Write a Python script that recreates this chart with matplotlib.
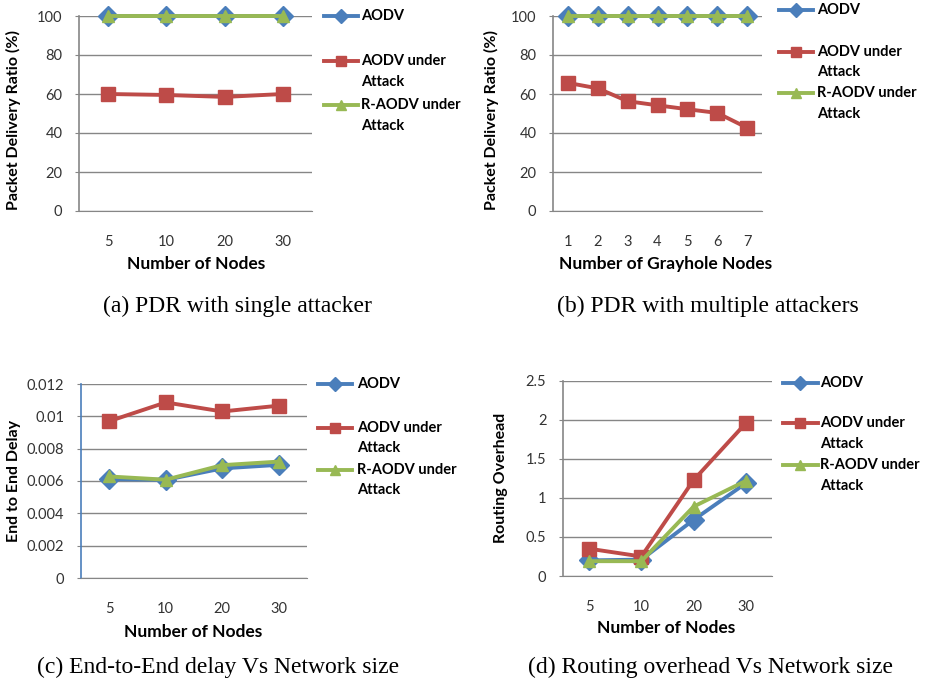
import numpy as np
import matplotlib.pyplot as plt
from matplotlib.lines import Line2D

# data
nodes = ["5", "10", "20", "30"]
grayhole = ["1", "2", "3", "4", "5", "6", "7"]
series_names = ["AODV", "AODV under\nAttack", "R-AODV under\nAttack"]

pdr_single_aodv = [100, 100, 100, 100]
pdr_single_attack = [60, 59.5, 58.5, 60]
pdr_single_raodv = [100, 100, 100, 100]

pdr_multi_aodv = [100, 100, 100, 100, 100, 100, 100]
pdr_multi_attack = [65.7, 62.9, 56.3, 54.2, 52.2, 50.3, 42.7]
pdr_multi_raodv = [100, 100, 100, 100, 100, 100, 100]

delay_aodv = [0.00612, 0.00607, 0.00678, 0.0070]
delay_attack = [0.0097, 0.01086, 0.0103, 0.01066]
delay_raodv = [0.00628, 0.00608, 0.00698, 0.0072]

overhead_aodv = [0.2, 0.21, 0.72, 1.19]
overhead_attack = [0.35, 0.25, 1.23, 1.96]
overhead_raodv = [0.19, 0.19, 0.89, 1.22]

BLUE = "#4A7EBB"
RED = "#BE4B48"
GREEN = "#98B954"
GRID = "#868686"
markers = ["D", "s", "^"]
msizes = [10, 10, 9]
colors = [BLUE, RED, GREEN]

W, H = 928, 684
fig = plt.figure(figsize=(W / 100, H / 100), dpi=100)
plt.rcParams["font.family"] = ["Lato", "DejaVu Sans"]


def px_axes(l, t, r, b):
    return fig.add_axes([l / W, 1 - b / H, (r - l) / W, (b - t) / H])


def ftext(x, y, s, **kw):
    fig.text(x / W, 1 - y / H, s, **kw)


def panel(box, cats, series, ymax, ystep, yfmt, xlabel, ylabel, xl, yl,
          caption, cap, leg, yaxis_color=GRID):
    ax = px_axes(*box)
    x = np.arange(len(cats))
    for vals, c, m, ms in zip(series, colors, markers, msizes):
        ax.plot(x, vals, color=c, lw=2.8, marker=m, ms=ms, mec=c, mfc=c,
                clip_on=False, zorder=3)
    ax.set_xlim(-0.5, len(cats) - 0.5)
    ax.set_ylim(0, ymax)
    ticks = np.arange(0, ymax + ystep / 2, ystep)
    ax.set_yticks(ticks)
    ax.set_yticklabels([yfmt(t) for t in ticks])
    ax.set_xticks(x)
    ax.set_xticklabels(cats)
    for s in ["top", "right"]:
        ax.spines[s].set_visible(False)
    ax.spines["bottom"].set_color(GRID)
    ax.spines["left"].set_color(yaxis_color)
    ax.spines["left"].set_linewidth(1.2)
    ax.grid(axis="y", color=GRID, lw=1)
    ax.set_axisbelow(True)
    ax.tick_params(axis="y", length=3, color=GRID, pad=9, labelsize=10.5,
                   labelcolor="#333333")
    ax.tick_params(axis="x", length=0, pad=17, labelsize=10.5,
                   labelcolor="#333333")
    ftext(xl[0], xl[1], xlabel, ha="center", va="center", fontsize=12.5,
          fontweight="bold")
    ftext(yl[0], yl[1], ylabel, ha="center", va="center", fontsize=11.5,
          fontweight="bold", rotation=90)
    ftext(cap[0], cap[1], caption, ha="center", va="center", fontsize=17,
          family="Liberation Serif")
    # legend, Excel style: marker on the first text line
    lx0, lx1, tx, ys = leg
    for name, c, m, y in zip(series_names, colors, markers, ys):
        fig.add_artist(Line2D([lx0 / W, lx1 / W], [1 - y / H, 1 - y / H],
                              color=c, lw=2.8))
        fig.add_artist(Line2D([(lx0 + lx1) / 2 / W], [1 - y / H], color=c,
                              marker=m, ms=7, mec=c, mfc=c))
        for k, line in enumerate(name.split("\n")):
            ftext(tx, y + 20.5 * k, line, ha="left", va="center",
                  fontsize=10.5, fontweight="bold")
    return ax


def fmt_int(v):
    return "%d" % round(v)


def fmt_g(v):
    return "%g" % round(v, 4)


panel((79, 16, 312, 211), nodes,
      [pdr_single_aodv, pdr_single_attack, pdr_single_raodv],
      100, 20, fmt_int, "Number of Nodes", "Packet Delivery Ratio (%)",
      (196, 264), (13, 120), "(a) PDR with single attacker", (237, 306),
      (324, 358, 361, [16, 61, 105]))

panel((553, 16, 762, 211), grayhole,
      [pdr_multi_aodv, pdr_multi_attack, pdr_multi_raodv],
      100, 20, fmt_int, "Number of Grayhole Nodes", "Packet Delivery Ratio (%)",
      (666, 264), (491, 120), "(b) PDR with multiple attackers", (708, 306),
      (779, 813, 817, [10, 52, 93]))

panel((81, 384, 307, 578), nodes,
      [delay_aodv, delay_attack, delay_raodv],
      0.012, 0.002, fmt_g, "Number of Nodes", "End to End Delay",
      (193, 632), (14, 481), "(c) End-to-End delay Vs Network size", (218, 667),
      (318, 352, 357, [384, 428, 470]), yaxis_color=BLUE)

panel((563, 381, 772, 576), nodes,
      [overhead_aodv, overhead_attack, overhead_raodv],
      2.5, 0.5, fmt_g, "Number of Nodes", "Routing Overhead",
      (666, 628), (501, 478), "(d) Routing overhead Vs Network size", (711, 667),
      (783, 818, 820, [383, 423, 465]))

fig.savefig("out.png", dpi=100)
